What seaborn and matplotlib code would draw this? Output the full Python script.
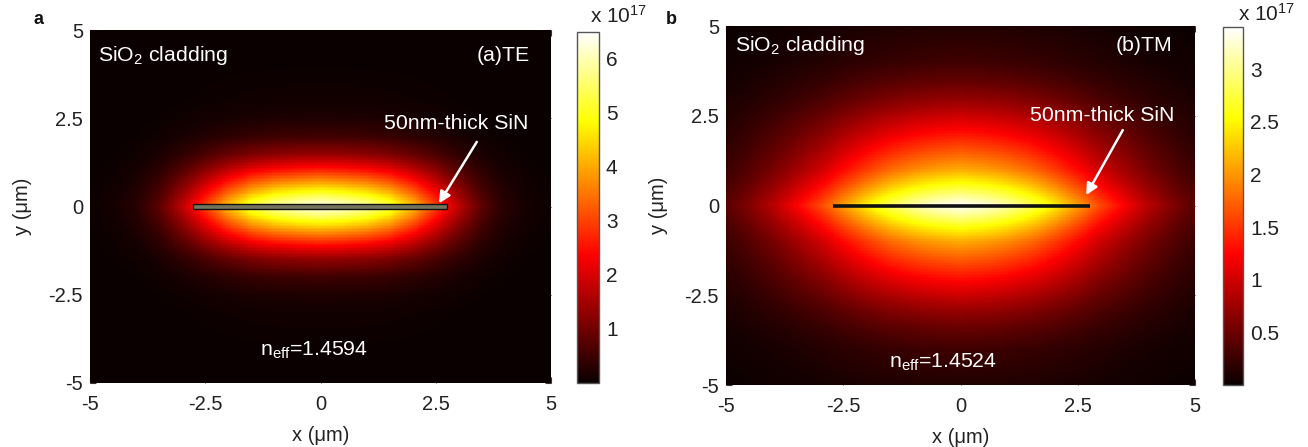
import numpy as np
import matplotlib
matplotlib.use("Agg")
import matplotlib.pyplot as plt
import matplotlib.patches as mpatches
import seaborn as sns

# ---------------- data ----------------
# relative intensity profiles (|x| along y=0 and |y| along x=0), peak in units of 1e17
te_x_um = [0, 0.5, 1.0, 1.5, 2.0, 2.5, 3.0, 3.5, 4.0, 4.5, 5.0]
te_x_rel = [1.0, 0.97, 0.92, 0.82, 0.66, 0.46, 0.27, 0.12, 0.045, 0.015, 0.005]
te_y_um = [0, 0.25, 0.5, 0.75, 1.0, 1.25, 1.5, 2.0, 2.5, 3.0, 4.0, 5.0]
te_y_rel = [1.0, 0.86, 0.72, 0.57, 0.43, 0.31, 0.20, 0.08, 0.03, 0.012, 0.003, 0.001]
te_peak = 6.5

tm_x_um = [0, 0.5, 1.0, 1.5, 2.0, 2.5, 3.0, 3.5, 4.0, 4.5, 5.0]
tm_x_rel = [1.0, 0.97, 0.92, 0.84, 0.73, 0.60, 0.47, 0.36, 0.26, 0.18, 0.12]
tm_y_um = [0, 0.3, 0.6, 1.0, 1.5, 2.0, 2.5, 3.0, 3.5, 4.0, 5.0]
tm_y_rel = [1.0, 0.88, 0.76, 0.62, 0.50, 0.39, 0.29, 0.20, 0.13, 0.08, 0.035]
tm_peak = 3.4

axis_ticks = [-5, -2.5, 0, 2.5, 5]
axis_ticklabels = ["-5", "-2.5", "0", "2.5", "5"]
te_cbar_ticks = [1, 2, 3, 4, 5, 6]
te_cbar_labels = ["1", "2", "3", "4", "5", "6"]
tm_cbar_ticks = [0.5, 1, 1.5, 2, 2.5, 3]
tm_cbar_labels = ["0.5", "1", "1.5", "2", "2.5", "3"]

te_neff = "1.4594"
tm_neff = "1.4524"
te_title = "(a)TE"
tm_title = "(b)TM"
te_guide = (-2.77, 2.74)
tm_guide = (-2.72, 2.76)

# ---------------- style ----------------
sns.set_theme(style="white")
plt.rcParams["font.family"] = ["Liberation Sans", "DejaVu Sans"]
plt.rcParams["mathtext.fontset"] = "custom"
plt.rcParams["mathtext.rm"] = "Liberation Sans"
plt.rcParams["mathtext.it"] = "Liberation Sans:italic"
plt.rcParams["mathtext.bf"] = "Liberation Sans:bold"

W, H = 1308, 447
fig = plt.figure(figsize=(W / 100, H / 100), dpi=100)
fig.patch.set_facecolor("white")


def box(x0, x1, y0, y1):
    return [x0 / W, 1 - y1 / H, (x1 - x0) / W, (y1 - y0) / H]


N = 241
grid = np.linspace(-5, 5, N)
dx = 10 / (N - 1)


def cx(x):
    return (x + 5) / dx + 0.5


def cy(y):
    return (5 - y) / dx + 0.5


def make_field(xu, xr, yu, yr, peak):
    fx = np.interp(np.abs(grid), xu, xr)
    fy = np.interp(np.abs(grid[::-1]), yu, yr)
    return peak * np.outer(fy, fx)


panels = [
    dict(ax=box(90, 551, 30, 383), cax=box(577, 599, 32, 383),
         field=make_field(te_x_um, te_x_rel, te_y_um, te_y_rel, te_peak), vmax=te_peak,
         cticks=te_cbar_ticks, clabels=te_cbar_labels, title=te_title, neff=te_neff,
         guide=te_guide, letter="a", letter_xy=(38, 20), exp_xy=(590, 16),
         sio2=(-4.83, 4.29), ttl=(4.54, 4.29), sin=(4.52, 2.34),
         arrow=((3.39, 1.83), (2.57, 0.09)), neff_xy=(-0.14, -4.07), style="box"),
    dict(ax=box(726, 1195, 26, 385), cax=box(1223, 1243, 27, 385),
         field=make_field(tm_x_um, tm_x_rel, tm_y_um, tm_y_rel, tm_peak), vmax=tm_peak,
         cticks=tm_cbar_ticks, clabels=tm_cbar_labels, title=tm_title, neff=tm_neff,
         guide=tm_guide, letter="b", letter_xy=(671, 20), exp_xy=(1238, 14),
         sio2=(-4.81, 4.47), ttl=(4.51, 4.47), sin=(4.55, 2.52),
         arrow=((3.46, 2.10), (2.68, 0.29)), neff_xy=(-0.37, -4.36), style="line"),
]

for p in panels:
    ax = fig.add_axes(p["ax"])
    cax = fig.add_axes(p["cax"])
    sns.heatmap(p["field"], ax=ax, cbar_ax=cax, cmap="hot", vmin=0, vmax=p["vmax"],
                xticklabels=False, yticklabels=False, rasterized=True)
    ax.set_xlim(cx(-5), cx(5))
    ax.set_ylim(cy(-5), cy(5))
    ax.set_xticks([cx(v) for v in axis_ticks])
    ax.set_xticklabels(axis_ticklabels)
    ax.set_yticks([cy(v) for v in axis_ticks])
    ax.set_yticklabels(axis_ticklabels)
    ax.tick_params(axis="both", direction="in", length=4, width=0.8, color="#333333",
                   labelsize=14.5, labelcolor="#222222", top=True, right=True,
                   bottom=True, left=True, pad=5)
    ax.tick_params(axis="x", pad=9)
    ax.set_xlabel("x (μm)", fontsize=14.5, color="#222222", labelpad=8)
    ax.set_ylabel("y (μm)", fontsize=14.5, color="#222222", labelpad=12)

    # colorbar
    cbar = ax.collections[0].colorbar
    cbar.set_ticks(p["cticks"])
    cbar.set_ticklabels(p["clabels"])
    cbar.outline.set_linewidth(1.0)
    cbar.outline.set_edgecolor("#555555")
    cax.tick_params(direction="in", length=4, width=0.8, color="#333333", left=True,
                    right=True, labelsize=15, labelcolor="#222222", pad=5)
    fig.text(p["exp_xy"][0] / W, 1 - p["exp_xy"][1] / H, r"x 10$^{17}$", fontsize=15,
             color="#222222", ha="left", va="center")
    fig.text(p["letter_xy"][0] / W, 1 - p["letter_xy"][1] / H, p["letter"], fontsize=13,
             fontweight="bold", color="#111111", ha="center", va="center")

    # waveguide
    g0, g1 = p["guide"]
    if p["style"] == "box":
        th = 0.13
        ax.add_patch(mpatches.Rectangle((cx(g0), cy(th / 2)), (g1 - g0) / dx, th / dx,
                                        facecolor="#74745e", edgecolor="#111111", lw=1.0))
    else:
        ax.plot([cx(g0), cx(g1)], [cy(0), cy(0)], color="#111111", lw=2.6,
                solid_capstyle="butt")

    # annotations
    ax.text(cx(p["sio2"][0]), cy(p["sio2"][1]), r"SiO$_2$ cladding", color="white",
            fontsize=15.3, ha="left", va="center")
    ax.text(cx(p["ttl"][0]), cy(p["ttl"][1]), p["title"], color="white",
            fontsize=15.3, ha="right", va="center")
    ax.text(cx(p["sin"][0]), cy(p["sin"][1]), "50nm-thick SiN", color="white",
            fontsize=15.3, ha="right", va="center")
    (ax0, ay0), (ax1, ay1) = p["arrow"]
    ax.annotate("", xy=(cx(ax1), cy(ay1)), xytext=(cx(ax0), cy(ay0)),
                arrowprops=dict(arrowstyle="-|>", color="white", lw=1.8,
                                mutation_scale=17, shrinkA=0, shrinkB=0))
    ax.text(cx(p["neff_xy"][0]), cy(p["neff_xy"][1]),
            r"n$_{\mathrm{eff}}$=" + p["neff"], color="white", fontsize=15.3,
            ha="center", va="center")

fig.savefig("out.png", dpi=100, facecolor="white")
